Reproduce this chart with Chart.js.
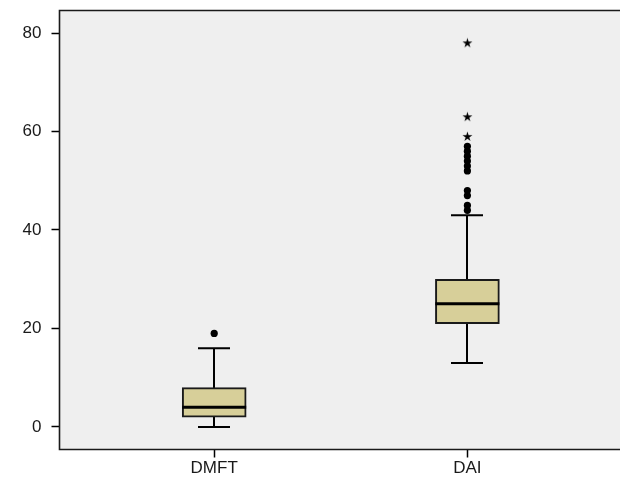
<!DOCTYPE html>
<html>
<head>
<meta charset="utf-8">
<script src="https://cdn.jsdelivr.net/npm/chart.js@4"></script>
<style>
html, body { margin: 0; padding: 0; background: #fff; }
</style>
</head>
<body>
<canvas id="BoxChart" width="620" height="493"></canvas>
<script>
// box plot summary per group
var categories = ["DMFT", "DAI"];
var catPos = [1, 2];
var whiskerLow = [0, 13];
var q1 = [2, 21];
var median = [4, 25];
var q3 = [8, 30];
var whiskerHigh = [16, 43];
// outliers (dots) and extremes (stars)
var dmftOutliers = [19];
var daiOutliers = [44, 45, 47, 48, 52, 53, 54, 55, 56, 57];
var daiExtremes = [59, 63, 78];
var yTicks = [0, 20, 40, 60, 80];

// small five-point star for extreme values
var star = document.createElement('canvas');
star.width = 11;
star.height = 11;
var sc = star.getContext('2d');
sc.fillStyle = '#000';
sc.beginPath();
for (var k = 0; k < 10; k++) {
  var r = (k % 2 === 0) ? 5.2 : 1.9;
  var a = -Math.PI / 2 + k * Math.PI / 5;
  var px = 5.5 + r * Math.cos(a), py = 5.8 + r * Math.sin(a);
  if (k === 0) sc.moveTo(px, py); else sc.lineTo(px, py);
}
sc.closePath();
sc.fill();

var boxParts = {
  id: 'boxParts',
  beforeDraw: function(chart) {
    var c = chart.ctx, a = chart.chartArea;
    c.save();
    c.fillStyle = '#efefef';
    c.fillRect(a.left, a.top, chart.width - a.left, a.bottom - a.top);
    c.restore();
  },
  beforeDatasetsDraw: function(chart) {
    var c = chart.ctx, xs = chart.scales.x, ys = chart.scales.y;
    c.save();
    c.strokeStyle = '#000';
    c.lineWidth = 2;
    var capHalf = 16;
    for (var i = 0; i < catPos.length; i++) {
      var x = Math.round(xs.getPixelForValue(catPos[i]));
      var lo = ys.getPixelForValue(whiskerLow[i]);
      var hi = ys.getPixelForValue(whiskerHigh[i]);
      c.beginPath();
      c.moveTo(x, hi); c.lineTo(x, lo);
      c.moveTo(x - capHalf, hi); c.lineTo(x + capHalf, hi);
      c.moveTo(x - capHalf, lo); c.lineTo(x + capHalf, lo);
      c.stroke();
    }
    c.restore();
  },
  afterDatasetsDraw: function(chart) {
    var c = chart.ctx, xs = chart.scales.x, ys = chart.scales.y, a = chart.chartArea;
    c.save();
    c.strokeStyle = '#000';
    c.lineWidth = 3;
    for (var i = 0; i < catPos.length; i++) {
      var x = xs.getPixelForValue(catPos[i]);
      var m = ys.getPixelForValue(median[i]);
      c.beginPath();
      c.moveTo(x - 32, m); c.lineTo(x + 32, m);
      c.stroke();
    }
    // frame: left, top, bottom
    c.strokeStyle = '#1a1a1a';
    c.lineWidth = 1.6;
    c.beginPath();
    c.moveTo(chart.width + 2, a.top); c.lineTo(a.left, a.top);
    c.lineTo(a.left, a.bottom); c.lineTo(chart.width + 2, a.bottom);
    c.stroke();
    c.restore();
  }
};

var ctx = document.getElementById("BoxChart").getContext('2d');
var myChart = new Chart(ctx, {
  data: {
    datasets: [{
      type: 'bar',
      data: catPos.map(function(x, i) { return { x: x, y: [q1[i], q3[i]] }; }),
      backgroundColor: '#d7cf99',
      borderColor: '#1a1a1a',
      borderWidth: 2,
      borderSkipped: false,
      barThickness: 64,
      grouped: false
    }, {
      type: 'scatter',
      data: dmftOutliers.map(function(v) { return { x: catPos[0], y: v }; })
        .concat(daiOutliers.map(function(v) { return { x: catPos[1], y: v }; })),
      pointRadius: 3.6,
      backgroundColor: '#000',
      borderWidth: 0
    }, {
      type: 'scatter',
      data: daiExtremes.map(function(v) { return { x: catPos[1], y: v }; }),
      pointStyle: star
    }]
  },
  options: {
    responsive: false,
    animation: false,
    layout: { padding: { top: 10.5, right: 0, bottom: 0, left: 0 } },
    plugins: {
      legend: { display: false },
      tooltip: { enabled: false }
    },
    scales: {
      x: {
        type: 'linear',
        offset: false,
        min: 0.389,
        max: 2.583,
        afterBuildTicks: function(scale) {
          scale.ticks = catPos.map(function(v) { return { value: v }; });
        },
        afterFit: function(scale) {
          scale.height = 43.5;
          scale.paddingLeft = 0;
          scale.paddingRight = 0;
        },
        ticks: {
          callback: function(v, i) { return categories[i]; },
          color: '#1a1a1a',
          font: { family: 'Liberation Sans, Arial, sans-serif', size: 17 },
          padding: 1,
          maxRotation: 0
        },
        grid: { offset: false, drawOnChartArea: false, drawTicks: true, tickLength: 8, tickColor: '#000', tickWidth: 1.5 },
        border: { display: false }
      },
      y: {
        min: -4.57,
        max: 84.57,
        afterBuildTicks: function(scale) {
          scale.ticks = yTicks.map(function(v) { return { value: v }; });
        },
        afterFit: function(scale) {
          scale.width = 59.5;
          scale.paddingTop = 0;
          scale.paddingBottom = 0;
        },
        ticks: {
          color: '#1a1a1a',
          font: { family: 'Liberation Sans, Arial, sans-serif', size: 17 },
          padding: 10
        },
        grid: { drawOnChartArea: false, drawTicks: true, tickLength: 8, tickColor: '#000', tickWidth: 1.5 },
        border: { display: false }
      }
    }
  },
  plugins: [boxParts]
});
</script>
</body>
</html>
